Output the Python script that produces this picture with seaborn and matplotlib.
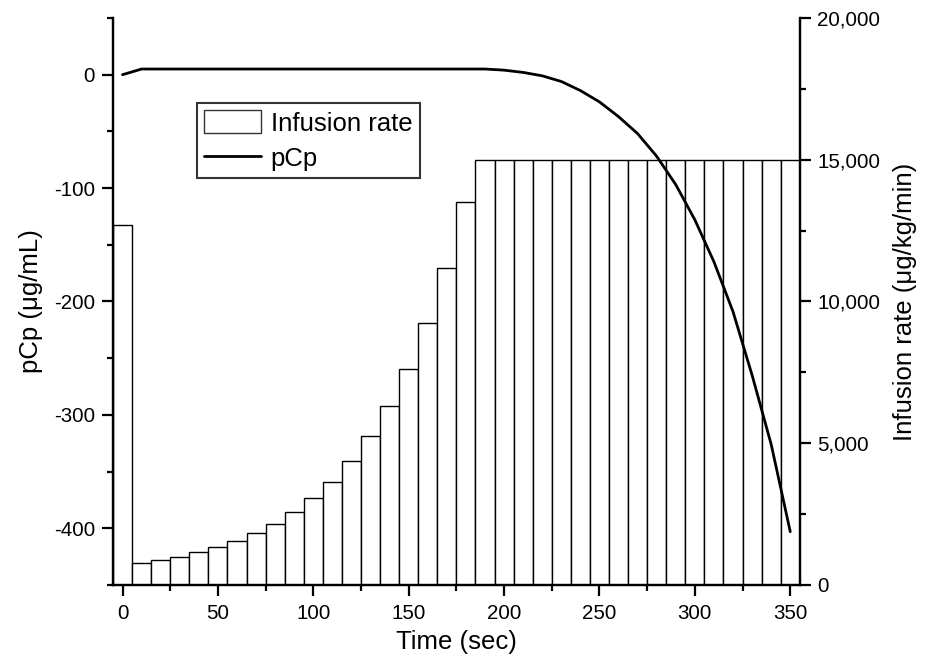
import numpy as np
import matplotlib
matplotlib.use('Agg')
import matplotlib.pyplot as plt
from matplotlib.patches import Patch
from matplotlib.lines import Line2D
from matplotlib.ticker import MultipleLocator, FuncFormatter
import seaborn as sns

# infusion rate bars, one every 10 s (µg/kg/min)
bar_time = [0, 10, 20, 30, 40, 50, 60, 70, 80, 90, 100, 110, 120, 130, 140, 150, 160, 170,
            180, 190, 200, 210, 220, 230, 240, 250, 260, 270, 280, 290, 300, 310, 320, 330,
            340, 350]
infusion_rate = [12700, 770, 870, 1000, 1160, 1340, 1560, 1830, 2160, 2560, 3060, 3650, 4370,
                 5250, 6330, 7620, 9230, 11170, 13510, 15000, 15000, 15000, 15000, 15000, 15000,
                 15000, 15000, 15000, 15000, 15000, 15000, 15000, 15000, 15000, 15000, 15000]

# pCp curve (µg/mL)
line_time = [0, 10, 20, 50, 100, 150, 190, 200, 210, 220, 230, 240, 250, 260, 270, 280, 290,
             300, 310, 320, 330, 340, 350]
pcp = [0, 5, 5, 5, 5, 5, 5, 4, 2, -1, -6, -14, -24, -37, -52, -72, -97, -128, -165, -209,
       -265, -326, -403]

sns.set_style('ticks')
plt.rcParams['font.family'] = ['Liberation Sans', 'DejaVu Sans']
plt.rcParams['axes.unicode_minus'] = False
for key in ('text.color', 'axes.labelcolor', 'xtick.color', 'ytick.color', 'axes.edgecolor'):
    plt.rcParams[key] = 'black'

fig = plt.figure(figsize=(9.3, 6.59), dpi=100)
ax = fig.add_axes([0.1215, 0.1123, 0.7385, 0.8604])
ax2 = ax.twinx()

# bars on the right axis
sns.histplot(x=bar_time, weights=infusion_rate, binwidth=10, binrange=(-5, 355),
             color='white', edgecolor='black', linewidth=1, alpha=1, ax=ax2)

# pCp on the left axis, drawn above the bars
sns.lineplot(x=line_time, y=pcp, color='black', linewidth=2.0, ax=ax)
ax.set_zorder(ax2.get_zorder() + 1)
ax.patch.set_visible(False)

ax.set_xlim(-5, 355)
ax.set_ylim(-450, 50)
ax2.set_ylim(0, 20000)

ax.xaxis.set_major_locator(MultipleLocator(50))
ax.xaxis.set_minor_locator(MultipleLocator(25))
ax.yaxis.set_major_locator(MultipleLocator(100))
ax.yaxis.set_minor_locator(MultipleLocator(50))
ax2.yaxis.set_major_locator(MultipleLocator(5000))
ax2.yaxis.set_minor_locator(MultipleLocator(2500))
ax2.yaxis.set_major_formatter(FuncFormatter(lambda v, p: f'{int(v):,}'))

for a in (ax, ax2):
    a.spines['top'].set_visible(False)
    for s in ('left', 'right', 'bottom'):
        a.spines[s].set_linewidth(1.6)
    a.tick_params(which='major', length=8, width=1.6, labelsize=14.8, direction='out')
    a.tick_params(which='minor', length=4.5, width=1.6, direction='out')
ax.tick_params(axis='y', pad=5)
ax2.tick_params(axis='y', pad=4.5)
ax.tick_params(axis='x', pad=6)

ax.set_xlabel('Time (sec)', fontsize=18.5, labelpad=5)
ax.set_ylabel('pCp (μg/mL)', fontsize=18.5, labelpad=8)
ax2.set_ylabel('Infusion rate (μg/kg/min)', fontsize=18.5, labelpad=9)

handles = [Patch(facecolor='white', edgecolor='#333333', linewidth=1, label='Infusion rate'),
           Line2D([], [], color='black', linewidth=2.0, label='pCp')]
leg = ax.legend(handles=handles, loc='upper left', bbox_to_anchor=(0.122, 0.85),
                borderaxespad=0, fontsize=18.5, frameon=True, fancybox=False,
                handlelength=2.2, handleheight=1.0, handletextpad=0.4,
                labelspacing=0.4, borderpad=0.28)
leg.get_frame().set_edgecolor('black')
leg.get_frame().set_linewidth(1.5)

fig.savefig('out.png', dpi=100)
